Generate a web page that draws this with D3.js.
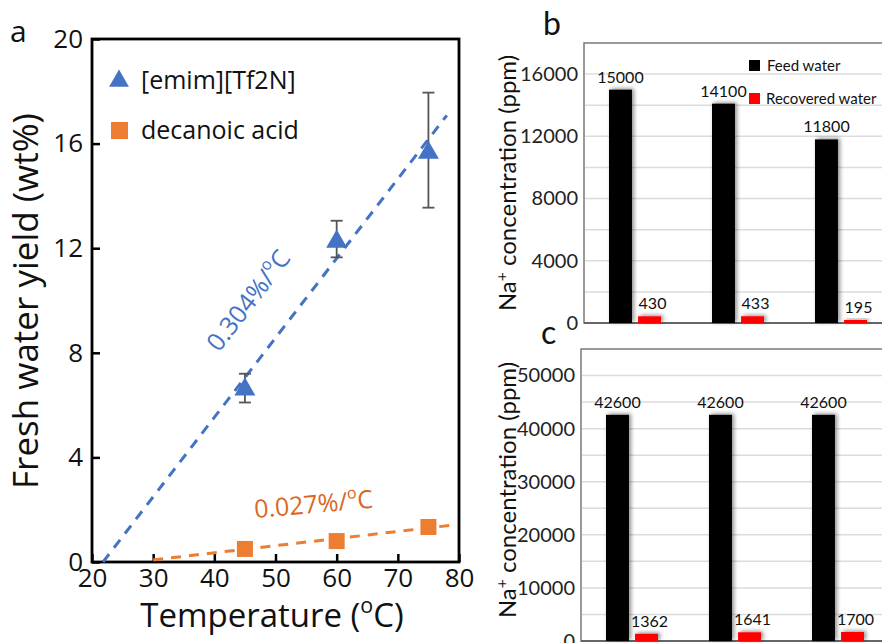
<!DOCTYPE html>
<html><head><meta charset="utf-8">
<script src="https://cdn.jsdelivr.net/npm/d3@7"></script>
<style>body{margin:0;background:#fff}svg{display:block;font-family:Lato,"Noto Sans",sans-serif}.os{font-family:"Open Sans","Noto Sans",sans-serif}</style>
</head><body>
<svg id="c" width="882" height="643"></svg>
<script>
// ---- Panel a data ----
const temps = [45, 60, 75];
const emimYield = [6.6, 12.25, 15.65];
const emimErrLow = [6.1, 11.65, 13.55];
const emimErrHigh = [7.2, 13.05, 17.95];
const decanoicYield = [0.5, 0.8, 1.34];
const emimFit = [[21.8, 0], [78, 17.08]];
const decanoicFit = [[30, 0.08], [78.5, 1.4]];
const xTicksA = [20, 30, 40, 50, 60, 70, 80];
const yTicksA = [0, 4, 8, 12, 16, 20];
const seriesA = ["[emim][Tf2N]", "decanoic acid"];
const slopeLabels = ["0.304%/", "0.027%/"];

// ---- Panel b / c data ----
const groups = ["1", "2", "3"];
const barSeries = ["Feed water", "Recovered water"];
const feedB = [15000, 14100, 11800];
const recB = [430, 433, 195];
const feedC = [42600, 42600, 42600];
const recC = [1362, 1641, 1700];
const yTicksB = [0, 4000, 8000, 12000, 16000];
const yTicksC = [0, 10000, 20000, 30000, 40000, 50000];

const blue = "#4472C4", orange = "#ED7D31", orangeText = "#D9681F";
const svg = d3.select("#c");

const defs = svg.append("defs");
const f = defs.append("filter").attr("id", "sh").attr("x", "-50%").attr("y", "-50%").attr("width", "200%").attr("height", "200%");
f.append("feDropShadow").attr("dx", 2).attr("dy", -1).attr("stdDeviation", 2.2).attr("flood-color", "#000").attr("flood-opacity", 0.45);

// ================= Panel a =================
const xA = d3.scaleLinear().domain([20, 80]).range([92, 459]);
const yA = d3.scaleLinear().domain([0, 20]).range([562, 39]);
const gA = svg.append("g").attr("class", "os");

gA.append("g").attr("transform", `translate(0,${yA(0)})`)
  .call(d3.axisBottom(xA).tickValues(xTicksA).tickSizeInner(-8).tickSizeOuter(0).tickPadding(7).tickFormat(d3.format("d")))
  .call(g => g.select(".domain").remove())
  .call(g => g.selectAll("line").attr("stroke", "#000").attr("stroke-width", 2.5))
  .call(g => g.selectAll("text").attr("font-size", 26).attr("font-family", "Open Sans").attr("fill", "#111"));
gA.append("g").attr("transform", `translate(${xA(20)},0)`)
  .call(d3.axisLeft(yA).tickValues(yTicksA).tickSizeInner(-8).tickSizeOuter(0).tickPadding(9).tickFormat(d3.format("d")))
  .call(g => g.select(".domain").remove())
  .call(g => g.selectAll("line").attr("stroke", "#000").attr("stroke-width", 2.5))
  .call(g => g.selectAll("text").attr("font-size", 26).attr("font-family", "Open Sans").attr("fill", "#111"));

gA.append("rect").attr("x", xA(20)).attr("y", yA(20)).attr("width", xA(80) - xA(20)).attr("height", yA(0) - yA(20))
  .attr("fill", "none").attr("stroke", "#000").attr("stroke-width", 2.8);

const line = d3.line().x(d => xA(d[0])).y(d => yA(d[1]));
gA.append("path").attr("d", line(emimFit)).attr("stroke", blue).attr("stroke-width", 3).attr("stroke-dasharray", "10,8").attr("fill", "none");
gA.append("path").attr("d", line(decanoicFit)).attr("stroke", orange).attr("stroke-width", 3).attr("stroke-dasharray", "10,8").attr("fill", "none");

// error bars
temps.forEach((t, i) => {
  const x = xA(t);
  gA.append("line").attr("x1", x).attr("x2", x).attr("y1", yA(emimErrLow[i])).attr("y2", yA(emimErrHigh[i])).attr("stroke", "#555").attr("stroke-width", 1.8);
  [emimErrLow[i], emimErrHigh[i]].forEach(v => gA.append("line").attr("x1", x - 6).attr("x2", x + 6).attr("y1", yA(v)).attr("y2", yA(v)).attr("stroke", "#555").attr("stroke-width", 1.8));
});
const tri = d3.symbol().type(d3.symbolTriangle).size(190);
gA.selectAll(".tri").data(temps).join("path").attr("d", tri)
  .attr("transform", (d, i) => `translate(${xA(d)},${yA(emimYield[i])})`).attr("fill", blue);
gA.selectAll(".sq").data(temps).join("rect")
  .attr("x", d => xA(d) - 8).attr("y", (d, i) => yA(decanoicYield[i]) - 8).attr("width", 16).attr("height", 16).attr("fill", orange);

// legend
gA.append("path").attr("d", d3.symbol().type(d3.symbolTriangle).size(170)()).attr("transform", "translate(119,81)").attr("fill", blue);
gA.append("rect").attr("x", 111).attr("y", 122).attr("width", 17).attr("height", 17).attr("fill", orange);
gA.append("text").attr("x", 141).attr("y", 89).attr("font-size", 25).attr("fill", "#111").text(seriesA[0]);
gA.append("text").attr("x", 141).attr("y", 139).attr("font-size", 25).attr("fill", "#111").text(seriesA[1]);

// slope annotations
function supText(sel, main, sup, tail) {
  sel.append("tspan").text(main);
  sel.append("tspan").attr("baseline-shift", "super").attr("font-size", "0.65em").text(sup);
  sel.append("tspan").text(tail);
}
const angle = Math.atan2(yA(emimFit[1][1]) - yA(emimFit[0][1]), xA(emimFit[1][0]) - xA(emimFit[0][0])) * 180 / Math.PI;
const t1 = gA.append("text").attr("transform", `translate(219,353) rotate(${angle})`).attr("font-size", 25).attr("fill", blue);
supText(t1, slopeLabels[0], "o", "C");
const t2 = gA.append("text").attr("transform", `translate(255,518) rotate(-5)`).attr("font-size", 25).attr("fill", orangeText);
supText(t2, slopeLabels[1], "o", "C");

// axis titles
const xt = gA.append("text").attr("x", 272).attr("y", 627).attr("text-anchor", "middle").attr("font-size", 33).attr("fill", "#111");
supText(xt, "Temperature (", "o", "C)");
gA.append("text").attr("transform", "translate(38,301) rotate(-90)").attr("text-anchor", "middle").attr("font-size", 35).attr("fill", "#111").text("Fresh water yield (wt%)");
gA.append("text").attr("x", 10).attr("y", 42).attr("font-size", 30).attr("fill", "#111").text("a");

// ================= Panels b, c =================
function barPanel(opts) {
  const { left, top, bottom, max, ticks, grid, feed, rec, lx, ly } = opts;
  const g = svg.append("g");
  const y = d3.scaleLinear().domain([0, max]).range([bottom, top]);
  const x = d3.scaleBand().domain(groups).range([left, left + 103 * groups.length]);
  const xs = d3.scaleBand().domain(barSeries).range([25, 77]).paddingInner(0.21);
  g.append("rect").attr("x", left).attr("y", top).attr("width", 400).attr("height", bottom - top).attr("fill", "#fff").attr("stroke", "#7a7a7a").attr("stroke-width", 1.5);
  g.selectAll(".grid").data(d3.range(grid, max, grid)).join("line")
    .attr("x1", left + 1).attr("x2", 882).attr("y1", d => y(d)).attr("y2", d => y(d)).attr("stroke", "#dcdcdc").attr("stroke-width", 1.5);
  g.append("line").attr("x1", left).attr("x2", 882).attr("y1", bottom).attr("y2", bottom).attr("stroke", "#666").attr("stroke-width", 1.8);
  const yl = g.append("text").attr("transform", `translate(${lx},${ly}) rotate(-90)`).attr("text-anchor", "middle").attr("font-size", 24).attr("fill", "#111");
  supText(yl, "Na", "+", " concentration (ppm)");
  g.append("g").attr("transform", `translate(${left},0)`)
    .call(d3.axisLeft(y).tickValues(ticks).tickSize(0).tickPadding(6).tickFormat(d3.format("d")))
    .call(s => s.select(".domain").remove())
    .call(s => s.selectAll("text").attr("font-size", 20).attr("font-family", "Lato").attr("fill", "#222"));
  const data = groups.map((gname, i) => ({ gname, vals: [feed[i], rec[i]] }));
  const gg = g.selectAll(".grp").data(data).join("g").attr("transform", d => `translate(${x(d.gname)},0)`);
  gg.selectAll("rect").data(d => d.vals.map((v, j) => ({ s: barSeries[j], v }))).join("rect")
    .attr("x", d => xs(d.s)).attr("width", xs.bandwidth())
    .attr("y", d => y(d.v)).attr("height", d => bottom - y(d.v))
    .attr("fill", d => d.s === barSeries[0] ? "#000" : "#ff0000").attr("filter", "url(#sh)");
  gg.selectAll("text").data(d => d.vals.map((v, j) => ({ s: barSeries[j], v }))).join("text")
    .attr("x", d => xs(d.s) + xs.bandwidth() / 2 + (d.s === barSeries[0] ? 0 : 3)).attr("y", d => y(d.v) - 7)
    .attr("text-anchor", "middle").attr("font-size", 16).attr("fill", "#111").text(d => d.v);
  return g;
}
const gB = barPanel({ left: 584, top: 43, bottom: 323, max: 18000, ticks: yTicksB, grid: 2000, feed: feedB, rec: recB, lx: 516, ly: 183 });
// legend b
gB.append("rect").attr("x", 749).attr("y", 60).attr("width", 11).attr("height", 11).attr("fill", "#000");
gB.append("rect").attr("x", 749).attr("y", 93).attr("width", 11).attr("height", 11).attr("fill", "#ff0000");
gB.append("text").attr("x", 767).attr("y", 71).attr("font-size", 15).attr("fill", "#111").text(barSeries[0]);
gB.append("text").attr("x", 766).attr("y", 104).attr("font-size", 15).attr("fill", "#111").text(barSeries[1]);
const gC = barPanel({ left: 581, top: 349, bottom: 641, max: 55000, ticks: yTicksC, grid: 5000, feed: feedC, rec: recC, lx: 516, ly: 490 });

svg.append("text").attr("x", 543).attr("y", 35).attr("font-size", 32).attr("fill", "#111").text("b");
svg.append("text").attr("x", 541).attr("y", 344).attr("font-size", 32).attr("fill", "#111").text("c");
</script>
</body></html>
